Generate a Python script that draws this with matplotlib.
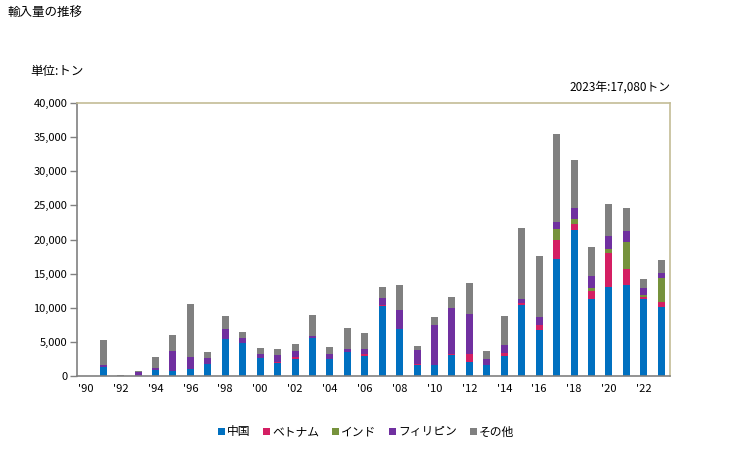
import matplotlib
matplotlib.use("Agg")
import matplotlib.pyplot as plt
import matplotlib.ticker as mticker
import numpy as np

plt.rcParams['font.family'] = ['Noto Sans CJK JP', 'DejaVu Sans']

# -----------------------------
# Data (tons)
# -----------------------------
years = list(range(1990, 2024))

china = [0, 1270, 0, 50, 930, 730, 1030, 1810, 5430, 4840,
         2690, 1910, 2490, 5575, 2490, 3520, 2930, 10270, 6900, 1610,
         1610, 3080, 2100, 1610, 2980, 10420, 6800, 17160, 21420, 11300,
         13060, 13350, 11300, 10120]
vietnam = [0, 0, 0, 0, 0, 0, 0, 0, 0, 0,
           0, 190, 300, 0, 0, 0, 300, 100, 0, 200,
           0, 150, 1130, 0, 390, 290, 680, 2790, 880, 1170,
           4980, 2350, 290, 740]
india = [0, 0, 0, 0, 0, 0, 0, 0, 0, 0,
         0, 0, 0, 0, 0, 0, 0, 0, 0, 0,
         0, 0, 0, 0, 0, 0, 0, 1610, 730, 440,
         590, 3960, 290, 3520]
philippines = [0, 340, 0, 550, 240, 2940, 1760, 830, 1470, 735,
               540, 980, 880, 295, 740, 440, 730, 1070, 2780, 2000,
               5870, 6750, 5870, 880, 1180, 590, 1170, 1030, 1610, 1760,
               1910, 1610, 1030, 730]
others = [0, 3670, 150, 130, 1620, 2350, 7770, 880, 1900, 880,
          880, 880, 1020, 3080, 1020, 3080, 2350, 1620, 3670, 590,
          1170, 1610, 4540, 1180, 4250, 10410, 8950, 12910, 7050, 4250,
          4690, 3370, 1320, 1910]

series = [
    ('中国', china, '#0070C0'),
    ('ベトナム', vietnam, '#D41F63'),
    ('インド', india, '#76923C'),
    ('フィリピン', philippines, '#7030A0'),
    ('その他', others, '#808080'),
]

# -----------------------------
# Figure
# -----------------------------
fig = plt.figure(figsize=(7.29, 4.5), dpi=100)
ax = fig.add_axes([77 / 729, 1 - 376 / 450, 593 / 729, 273 / 450])

x = np.arange(len(years))
bottom = np.zeros(len(years))
for name, vals, color in series:
    vals = np.array(vals, dtype=float)
    ax.bar(x, vals, width=0.4, bottom=bottom, color=color, label=name, zorder=2)
    bottom += vals

ax.set_xlim(-0.5, len(years) - 0.5)
ax.set_ylim(0, 40000)
ax.yaxis.set_major_locator(mticker.MultipleLocator(5000))
ax.yaxis.set_major_formatter(mticker.FuncFormatter(lambda v, _: f'{int(v):,}'))

tick_idx = [i for i, y in enumerate(years) if y % 2 == 0]
ax.set_xticks(tick_idx)
ax.set_xticklabels([f"'{years[i] % 100:02d}" for i in tick_idx])

ax.tick_params(axis='x', length=0, labelsize=8, pad=6)
ax.tick_params(axis='y', length=5, width=1, color='#808080', labelsize=8, pad=2)

for side in ['left', 'bottom']:
    ax.spines[side].set_color('#808080')
    ax.spines[side].set_linewidth(1.2)
for side in ['top', 'right']:
    ax.spines[side].set_color('#C4BC96')
    ax.spines[side].set_linewidth(1.2)

# -----------------------------
# Text
# -----------------------------
fig.text(8 / 729, 1 - 12 / 450, '輸入量の推移', fontsize=9, ha='left', va='center')
fig.text(30 / 729, 1 - 72 / 450, '単位:トン', fontsize=9, ha='left', va='center')
fig.text(670 / 729, 1 - 87 / 450, '2023年:17,080トン', fontsize=8.5, ha='right', va='center')

handles, labels = ax.get_legend_handles_labels()
fig.legend(handles, labels, loc='center', bbox_to_anchor=(366 / 729, 1 - 432 / 450),
           ncol=5, frameon=False, fontsize=8.5, handlelength=0.6, handleheight=0.6,
           handletextpad=0.15, columnspacing=1.1)

fig.savefig('out.png', dpi=100)
